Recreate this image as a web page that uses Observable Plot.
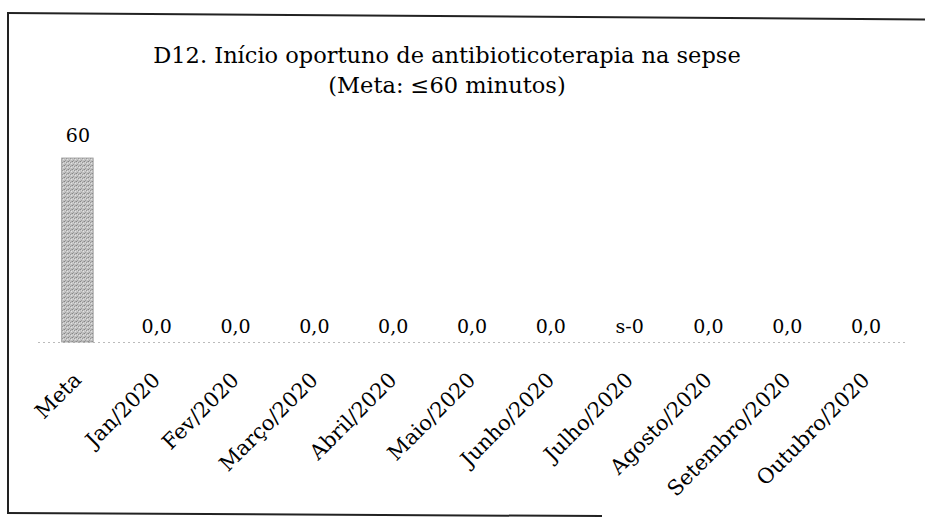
<!DOCTYPE html>
<html>
<head>
<meta charset="utf-8">
<script src="https://cdn.jsdelivr.net/npm/d3@7"></script>
<script src="https://cdn.jsdelivr.net/npm/@observablehq/plot@0.6"></script>
<style>
  html, body { margin: 0; padding: 0; background: #fff; }
  #page { position: relative; width: 925px; height: 521px; overflow: hidden; font-family: "DejaVu Serif", serif; color: #111; }
  #leftline { position: absolute; left: 7px; top: 12px; width: 0; height: 501px; border-left: 2px solid #222; }
  #topline { position: absolute; left: 7px; top: 12px; width: 930px; height: 0; border-top: 2px solid #222; transform-origin: 0 0; transform: rotate(0.4deg); }
  #bottomline { position: absolute; left: 7px; top: 512px; width: 595px; height: 0; border-top: 2px solid #222; transform-origin: 0 0; transform: rotate(0.3deg); }
  #title { position: absolute; left: 0; top: 40px; width: 894px; text-align: center; font-family: "DejaVu Serif", serif; font-size: 22.5px; line-height: 30px; color: #000; }
  #chart { position: absolute; left: 0; top: 125px; }
</style>
</head>
<body>
<div id="page">
  <div id="leftline"></div>
  <div id="topline"></div>
  <div id="bottomline"></div>
  <div id="title">D12. Início oportuno de antibioticoterapia na sepse<br>(Meta: ≤60 minutos)</div>
  <div id="chart"></div>
</div>
<script>
const categories = ["Meta", "Jan/2020", "Fev/2020", "Março/2020", "Abril/2020", "Maio/2020", "Junho/2020", "Julho/2020", "Agosto/2020", "Setembro/2020", "Outubro/2020"];
const values = [60, 0, 0, 0, 0, 0, 0, 0, 0, 0, 0];
const valueLabels = ["60", "0,0", "0,0", "0,0", "0,0", "0,0", "0,0", "s-0", "0,0", "0,0", "0,0"];

const data = categories.map((c, i) => ({cat: c, value: values[i], label: valueLabels[i]}));

const chart = Plot.plot({
  width: 925,
  height: 396,
  marginTop: 33,
  marginBottom: 179,
  marginLeft: 38,
  marginRight: 20,
  style: {fontFamily: "'DejaVu Serif', serif", fontSize: "21px", color: "#000", background: "transparent"},
  x: {domain: categories, round: false, paddingInner: 0.6, paddingOuter: 0.3, tickRotate: -45, tickSize: 0, tickPadding: 34, label: null},
  y: {domain: [0, 60], axis: null},
  marks: [
    Plot.ruleY([0], {stroke: "#bbb", strokeDasharray: "2,3"}),
    Plot.barY(data, {x: "cat", y: "value", fill: "url(#speckle)", stroke: "#9a9a9a", strokeWidth: 0.8}),
    Plot.text(data.filter(d => d.value > 0), {x: "cat", y: "value", text: "label", dy: -23, fontSize: 19, fill: "#000"}),
    Plot.text(data.filter(d => d.value === 0), {x: "cat", y: "value", text: "label", dy: -16, fontSize: 19, fill: "#000"})
  ]
});

// texture for the bar, like the greyscale dither of the original
const svg = d3.select(chart);
const defs = svg.insert("defs", ":first-child");
const pat = defs.append("pattern").attr("id", "speckle").attr("patternUnits", "userSpaceOnUse").attr("width", 4).attr("height", 4);
pat.append("rect").attr("width", 4).attr("height", 4).attr("fill", "#c2c2c2");
[[0,0,"#858585"],[2,1,"#969696"],[1,3,"#9c9c9c"],[3,2,"#e2e2e2"],[1,1,"#d8d8d8"],[3,0,"#a8a8a8"]].forEach(([x,y,c]) =>
  pat.append("rect").attr("x", x).attr("y", y).attr("width", 1).attr("height", 1).attr("fill", c));

document.getElementById("chart").appendChild(chart);
</script>
</body>
</html>
